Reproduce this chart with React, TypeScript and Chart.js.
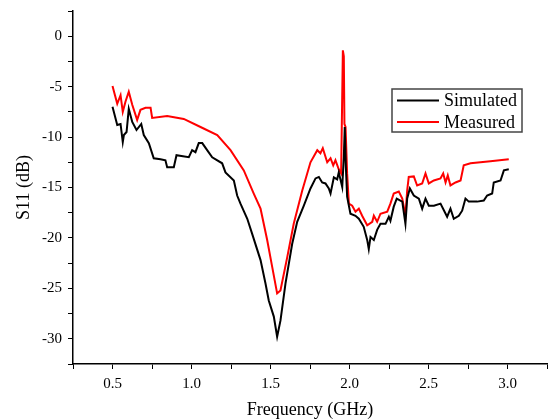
import React, { useEffect, useRef } from "react";
import { Chart, registerables } from "chart.js";

Chart.register(...registerables);

const simFreq = [0.5, 0.53, 0.551, 0.565, 0.572, 0.589, 0.603, 0.625, 0.652, 0.682, 0.698, 0.73, 0.761, 0.804, 0.835, 0.846, 0.888, 0.905, 0.983, 1.004, 1.025, 1.046, 1.068, 1.099, 1.131, 1.194, 1.215, 1.268, 1.289, 1.31, 1.353, 1.384, 1.437, 1.468, 1.489, 1.521, 1.542, 1.563, 1.595, 1.637, 1.669, 1.711, 1.753, 1.785, 1.806, 1.827, 1.848, 1.869, 1.88, 1.901, 1.922, 1.932, 1.954, 1.964, 1.97, 1.977, 1.985, 2.006, 2.038, 2.059, 2.09, 2.112, 2.122, 2.133, 2.154, 2.175, 2.196, 2.228, 2.249, 2.259, 2.28, 2.299, 2.334, 2.354, 2.365, 2.382, 2.407, 2.439, 2.46, 2.481, 2.502, 2.534, 2.576, 2.618, 2.639, 2.66, 2.692, 2.713, 2.734, 2.755, 2.808, 2.85, 2.871, 2.903, 2.913, 2.956, 2.977, 3.008];
const simS11 = [-7.0, -8.8, -8.7, -10.5, -9.8, -9.5, -7.2, -8.5, -9.3, -8.7, -9.8, -10.6, -12.1, -12.2, -12.3, -13.0, -13.0, -11.8, -12.0, -11.3, -11.5, -10.6, -10.6, -11.3, -12.0, -12.6, -13.5, -14.3, -15.8, -16.6, -18.1, -19.6, -22.2, -24.5, -26.2, -27.8, -29.8, -28.2, -24.5, -20.6, -18.4, -16.8, -15.1, -14.1, -13.95, -14.5, -14.6, -15.1, -15.6, -14.0, -14.2, -13.5, -14.95, -12.0, -9.0, -13.0, -15.9, -17.6, -17.8, -18.1, -18.9, -20.2, -21.1, -19.9, -20.2, -19.2, -18.6, -18.6, -17.9, -18.3, -16.9, -16.1, -16.4, -18.6, -16.1, -15.1, -15.8, -16.1, -17.1, -16.1, -16.8, -16.8, -16.6, -17.9, -17.1, -18.1, -17.8, -17.3, -16.1, -16.4, -16.4, -16.3, -15.8, -15.6, -14.5, -14.3, -13.3, -13.2];

const measFreq = [0.5, 0.53, 0.551, 0.565, 0.582, 0.603, 0.625, 0.656, 0.677, 0.709, 0.741, 0.751, 0.846, 0.951, 1.057, 1.163, 1.247, 1.331, 1.394, 1.437, 1.479, 1.511, 1.542, 1.563, 1.606, 1.647, 1.701, 1.753, 1.796, 1.816, 1.831, 1.859, 1.88, 1.897, 1.911, 1.932, 1.947, 1.958, 1.964, 1.968, 1.975, 1.985, 1.996, 2.017, 2.038, 2.059, 2.08, 2.112, 2.144, 2.154, 2.175, 2.196, 2.239, 2.259, 2.28, 2.312, 2.334, 2.354, 2.365, 2.375, 2.407, 2.428, 2.46, 2.481, 2.502, 2.534, 2.576, 2.593, 2.608, 2.622, 2.639, 2.671, 2.703, 2.723, 2.766, 2.892, 3.008];
const measS11 = [-4.93, -6.7, -5.85, -7.5, -6.5, -5.5, -6.8, -8.3, -7.3, -7.1, -7.1, -8.1, -7.9, -8.2, -9.0, -9.8, -11.3, -13.3, -15.6, -17.1, -20.2, -22.9, -25.5, -25.2, -21.9, -18.6, -15.3, -12.5, -11.3, -11.6, -11.1, -12.5, -12.1, -12.8, -12.3, -13.2, -13.6, -1.4, -2.0, -8.7, -9.0, -13.6, -16.6, -16.8, -17.4, -17.1, -17.8, -18.75, -18.4, -17.8, -18.4, -17.6, -17.4, -16.6, -15.6, -15.4, -16.1, -17.8, -15.3, -13.95, -13.9, -14.8, -14.6, -13.6, -14.6, -14.3, -14.1, -13.6, -14.5, -13.8, -14.8, -14.5, -14.3, -12.8, -12.6, -12.4, -12.2];

const seriesNames = ["Simulated", "Measured"];
const seriesColors = ["#000000", "#ff0000"];
const xTitle = "Frequency (GHz)";
const yTitle = "S11 (dB)";

const FONT = "'Liberation Serif', 'Times New Roman', serif";

const legendPlugin = {
  id: "boxLegend",
  afterDraw(chart: any) {
    const { ctx, chartArea } = chart;
    const left = chartArea.right - 155;
    const top = chartArea.top + 78;
    const w = 130;
    const h = 43;
    ctx.save();
    ctx.strokeStyle = "#444444";
    ctx.lineWidth = 1.5;
    ctx.strokeRect(left, top, w, h);
    ctx.font = "18px " + FONT;
    ctx.textBaseline = "middle";
    ctx.textAlign = "left";
    seriesNames.forEach((name, i) => {
      const y = top + 11.5 + i * 21.5;
      ctx.strokeStyle = seriesColors[i];
      ctx.lineWidth = 2;
      ctx.beginPath();
      ctx.moveTo(left + 5, y);
      ctx.lineTo(left + 47, y);
      ctx.stroke();
      ctx.fillStyle = "#000000";
      ctx.fillText(name, left + 52, y + 1);
    });
    ctx.restore();
  },
};

export default function App() {
  const ref = useRef<HTMLCanvasElement | null>(null);
  useEffect(() => {
    document.body.style.margin = "0";
    const canvas = ref.current;
    if (!canvas) return;
    const chart = new Chart(canvas, {
      type: "line",
      data: {
        datasets: [
          {
            label: seriesNames[0],
            data: simFreq.map((x, i) => ({ x, y: simS11[i] })),
            borderColor: seriesColors[0],
            borderWidth: 2,
            pointRadius: 0,
            tension: 0,
            fill: false,
          },
          {
            label: seriesNames[1],
            data: measFreq.map((x, i) => ({ x, y: measS11[i] })),
            borderColor: seriesColors[1],
            borderWidth: 2,
            pointRadius: 0,
            tension: 0,
            fill: false,
          },
        ],
      },
      options: {
        animation: false,
        responsive: false,
        maintainAspectRatio: false,
        layout: { padding: { top: 11, right: 2, left: 0, bottom: 0 } },
        plugins: { legend: { display: false }, tooltip: { enabled: false } },
        scales: {
          x: {
            type: "linear",
            min: 0.25,
            max: 3.25,
            border: { display: true, color: "#000", width: 1.5 },
            grid: { display: true, drawOnChartArea: false, drawTicks: true, tickLength: 5, color: "#000", tickWidth: 1 },
            ticks: {
              stepSize: 0.25,
              autoSkip: false,
              maxRotation: 0,
              padding: 6,
              color: "#000",
              font: { family: FONT, size: 15 },
              callback: (v: any) => {
                const n = Number(v);
                return Math.abs(n * 2 - Math.round(n * 2)) < 1e-6 && n > 0.3 && n < 3.2 ? n.toFixed(1) : "";
              },
            },
            title: { display: true, text: xTitle, color: "#000", font: { family: FONT, size: 18, lineHeight: 1 }, padding: { top: 0, bottom: 0 } },
            afterFit: (s: any) => { s.height = 55; s.paddingLeft = 0; s.paddingRight = 0; },
          },
          y: {
            type: "linear",
            min: -32.5,
            max: 2.5,
            border: { display: true, color: "#000", width: 1.5 },
            grid: { display: true, drawOnChartArea: false, drawTicks: true, tickLength: 5, color: "#000", tickWidth: 1 },
            ticks: {
              stepSize: 2.5,
              autoSkip: false,
              padding: 6,
              color: "#000",
              font: { family: FONT, size: 15 },
              callback: (v: any) => {
                const n = Number(v);
                return Math.abs(n / 5 - Math.round(n / 5)) < 1e-6 && n > -32 && n < 2 ? String(Math.round(n)) : "";
              },
            },
            title: { display: true, text: yTitle, color: "#000", font: { family: FONT, size: 18 }, padding: { top: 13, bottom: 0 } },
            afterFit: (s: any) => { s.width = 73; s.paddingTop = 0; s.paddingBottom = 0; },
          },
        },
      },
      plugins: [legendPlugin],
    } as any);
    return () => chart.destroy();
  }, []);
  return (
    <div style={{ width: 549, height: 419, background: "#fff" }}>
      <canvas ref={ref} width={549} height={419} />
    </div>
  );
}
